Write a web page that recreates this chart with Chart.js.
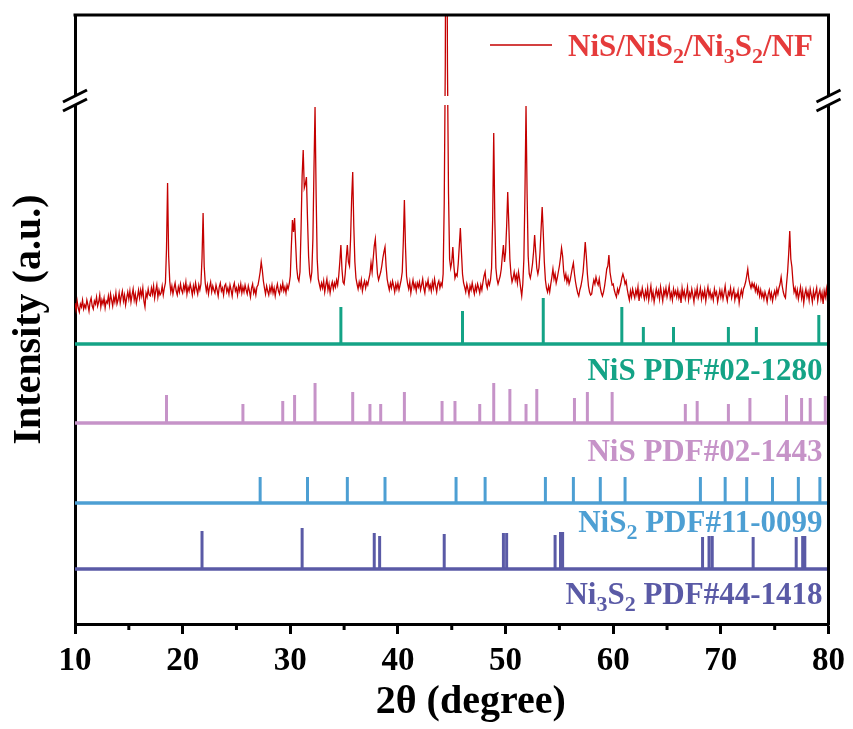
<!DOCTYPE html>
<html>
<head>
<meta charset="utf-8">
<script src="https://cdn.jsdelivr.net/npm/chart.js@4.4.1/dist/chart.umd.min.js"></script>
<style>
    html, body { margin: 0; padding: 0; background: #fff; }
    #wrap { width: 853px; height: 729px; }
</style>
</head>
<body>
<div id="wrap"><canvas id="xrdChart"></canvas></div>
<script>
// XRD scan of the sample, 2θ = 10..80 in 0.1 degree steps (a.u.)
const scanStart = 10;
const scanStep = 0.1;
const sampleCounts = [
    321, 314, 323, 316, 312, 320, 317, 324, 315, 319,
    316, 324, 319, 313, 322, 326, 318, 315, 323, 320,
    327, 318, 322, 329, 317, 324, 320, 326, 316, 323,
    321, 328, 319, 330, 324, 318, 327, 322, 331, 320,
    324, 331, 321, 328, 333, 323, 329, 319, 326, 332,
    325, 333, 322, 329, 335, 324, 330, 321, 327, 334,
    326, 334, 328, 336, 323, 317, 331, 327, 335, 329,
    328, 336, 330, 338, 326, 333, 339, 327, 334, 329,
    331, 338, 329, 336, 341, 375, 441, 368, 343, 332,
    338, 330, 336, 341, 333, 329, 337, 332, 340, 334,
    331, 339, 334, 342, 330, 337, 333, 340, 335, 329,
    338, 332, 341, 335, 330, 339, 334, 340, 366, 411,
    358, 341, 333, 339, 330, 337, 342, 332, 338, 334,
    331, 339, 334, 328, 337, 341, 333, 336, 329, 338,
    340, 332, 336, 330, 339, 334, 328, 337, 341, 333,
    336, 329, 338, 333, 340, 331, 337, 332, 339, 334,
    330, 338, 333, 327, 336, 340, 331, 335, 329, 337,
    339, 345, 352, 362, 354, 343, 336, 330, 338, 333,
    329, 337, 332, 339, 331, 336, 328, 335, 340, 333,
    330, 338, 334, 341, 333, 337, 331, 339, 335, 340,
    348, 378, 404, 392, 406, 380, 356, 346, 343, 352,
    395, 448, 474, 436, 440, 447, 405, 368, 350, 344,
    352, 385, 455, 517, 430, 365, 345, 340, 335, 341,
    336, 343, 332, 339, 345, 334, 340, 331, 338, 342,
    335, 341, 337, 344, 339, 348, 362, 379, 355, 342,
    340, 350, 366, 379, 362, 358, 385, 425, 452, 398,
    362, 346, 340, 335, 342, 337, 344, 333, 339, 343,
    336, 342, 339, 345, 350, 361, 352, 365, 378, 385,
    366, 350, 344, 348, 352, 358, 366, 372, 377, 358,
    345, 339, 334, 341, 336, 343, 338, 332, 340, 335,
    341, 334, 339, 344, 352, 382, 424, 378, 348, 340,
    335, 342, 331, 338, 344, 336, 340, 333, 341, 337,
    342, 334, 339, 345, 336, 331, 341, 338, 344, 335,
    339, 333, 342, 336, 345, 338, 332, 340, 343, 336,
    341, 338, 350, 420, 560, 900, 560, 430, 365, 356,
    362, 377, 358, 346, 350, 348, 360, 378, 396, 372,
    350, 341, 337, 332, 340, 335, 329, 338, 334, 341,
    335, 330, 338, 333, 340, 336, 331, 339, 334, 342,
    348, 352, 340, 336, 343, 339, 344, 356, 405, 491,
    405, 356, 345, 340, 344, 348, 355, 368, 379, 362,
    372, 398, 432, 400, 365, 350, 342, 346, 352, 344,
    349, 341, 352, 345, 336, 328, 340, 365, 430, 518,
    430, 368, 350, 346, 352, 360, 372, 389, 372, 356,
    350, 356, 372, 395, 417, 392, 362, 344, 336, 332,
    338, 332, 340, 347, 355, 345, 350, 341, 346, 352,
    358, 366, 376, 368, 352, 345, 350, 342, 347, 340,
    344, 350, 356, 361, 350, 342, 336, 331, 328, 334,
    338, 344, 352, 366, 382, 368, 350, 338, 332, 329,
    330, 338, 344, 340, 347, 342, 339, 345, 336, 331,
    328, 332, 338, 346, 355, 358, 369, 352, 345, 339,
    340, 334, 330, 327, 335, 331, 336, 340, 346, 350,
    346, 340, 343, 335, 329, 324, 333, 327, 335, 330,
    326, 334, 329, 337, 323, 332, 328, 336, 330, 325,
    333, 327, 336, 324, 331, 338, 326, 332, 322, 329,
    335, 328, 333, 325, 337, 330, 323, 334, 329, 336,
    327, 332, 338, 326, 331, 324, 335, 329, 333, 327,
    334, 326, 331, 321, 336, 328, 333, 325, 330, 337,
    324, 331, 327, 335, 329, 322, 333, 328, 336, 326,
    330, 336, 325, 332, 327, 334, 323, 331, 337, 328,
    333, 326, 330, 324, 335, 329, 332, 322, 328, 334,
    327, 333, 325, 331, 338, 328, 323, 332, 329, 336,
    326, 331, 335, 324, 330, 327, 333, 321, 329, 334,
    328, 335, 338, 342, 348, 355, 345, 340, 336, 341,
    337, 340, 333, 338, 331, 336, 328, 334, 327, 331,
    325, 332, 328, 322, 330, 334, 326, 331, 323, 329,
    333, 327, 335, 330, 336, 340, 347, 338, 332, 328,
    326, 340, 352, 370, 393, 365, 357, 342, 332, 336,
    328, 334, 325, 331, 337, 326, 333, 321, 330, 335,
    327, 332, 324, 335, 329, 322, 333, 326, 331, 336,
    323, 330, 334, 325, 331, 320, 333, 327, 335, 324,
    330
];
const sampleLabel = 'NiS/NiS_2/Ni_3S_2/NF';

// reference cards: peak positions (2θ) and relative intensities
const nisAPos = [34.7, 46.0, 53.5, 60.8, 62.8, 65.6, 70.7, 73.3, 79.1];
const nisAInt = [37, 33, 46, 37, 17, 17, 17, 17, 29];
const nisBPos = [18.5, 25.6, 29.3, 30.4, 32.3, 35.8, 37.4, 38.4, 40.6, 44.1, 45.3, 47.6, 48.9, 50.4,
                 51.9, 52.9, 56.4, 57.6, 59.9, 66.7, 67.8, 70.7, 72.7, 76.1, 77.5, 78.3, 79.7];
const nisBInt = [28, 19, 22, 28, 40, 31, 19, 19, 31, 22, 22, 19, 40, 34,
                 19, 34, 25, 31, 31, 19, 22, 19, 25, 28, 25, 25, 27];
const nis2Pos = [27.2, 31.6, 35.3, 38.8, 45.4, 48.1, 53.7, 56.3, 58.8, 61.1, 68.1, 70.4, 72.4, 74.8, 77.2, 79.2];
const nis2Int = [26, 26, 26, 26, 26, 26, 26, 26, 26, 26, 26, 26, 26, 26, 26, 26];
const ni3s2Pos = [21.8, 31.1, 37.8, 38.3, 44.3, 49.8, 50.1, 54.6, 55.1, 55.3, 68.3, 68.9, 69.2, 73.0, 77.0, 77.6, 77.8];
const ni3s2Int = [38, 41, 36, 33, 35, 36, 36, 34, 37, 37, 32, 33, 33, 32, 32, 33, 33];
const cardLabels = ['NiS PDF#02-1280', 'NiS PDF#02-1443', 'NiS_2 PDF#11-0099', 'Ni_3S_2 PDF#44-1418'];
const cardOffsets = [280, 201, 121, 55];

const xTicks = [10, 20, 30, 40, 50, 60, 70, 80];
const xMinorTicks = [15, 25, 35, 45, 55, 65, 75];
const axisBreak = [519, 528];

const FONT = '"Liberation Serif", "Times New Roman", serif';
const sampleColor = '#c40000';
const sampleTextColor = '#e53b3b';
const cardColors = ['#14a386', '#c693c8', '#4d9fd3', '#5a5aa6'];
const labelDy = [36, 38, 29, 35];

const cards = [
    [nisAPos, nisAInt],
    [nisBPos, nisBInt],
    [nis2Pos, nis2Int],
    [ni3s2Pos, ni3s2Int]
];

// draws text where "_3" means subscript 3
function drawRich(ctx, text, x, y, size, color, alignRight) {
    const parts = text.split(/(_\d)/).filter(s => s);
    const subSize = Math.round(size * 0.7);
    let total = 0;
    parts.forEach(p => {
        const sub = p[0] === '_';
        ctx.font = `bold ${sub ? subSize : size}px ${FONT}`;
        total += ctx.measureText(sub ? p.slice(1) : p).width;
    });
    let cx = alignRight ? x - total : x;
    ctx.fillStyle = color;
    ctx.textAlign = 'left';
    ctx.textBaseline = 'alphabetic';
    parts.forEach(p => {
        const sub = p[0] === '_';
        const s = sub ? p.slice(1) : p;
        ctx.font = `bold ${sub ? subSize : size}px ${FONT}`;
        ctx.fillText(s, cx, sub ? y + size * 0.24 : y);
        cx += ctx.measureText(s).width;
    });
}

const framePlugin = {
    id: 'frame',
    afterDatasetsDraw(chart) {
        const { ctx, chartArea: a, scales: { x, y } } = chart;
        ctx.save();
        ctx.strokeStyle = '#000';
        ctx.lineWidth = 3;
        ctx.beginPath();
        ctx.moveTo(a.left - 1.5, a.top);
        ctx.lineTo(a.right, a.top);
        ctx.lineTo(a.right, a.bottom + 1.5);
        ctx.stroke();

        // minor ticks
        xMinorTicks.forEach(v => {
            const px = x.getPixelForValue(v);
            ctx.beginPath();
            ctx.moveTo(px, a.bottom);
            ctx.lineTo(px, a.bottom + 6);
            ctx.stroke();
        });

        // axis break
        const yTop = y.getPixelForValue(axisBreak[1]);
        const yBot = y.getPixelForValue(axisBreak[0]);
        ctx.fillStyle = '#fff';
        ctx.fillRect(a.left - 4, yTop, a.right - a.left + 8, yBot - yTop);
        [a.left, a.right].forEach(ex => {
            [yTop, yBot].forEach(ey => {
                ctx.beginPath();
                ctx.moveTo(ex - 12, ey + 6);
                ctx.lineTo(ex + 12, ey - 6);
                ctx.stroke();
            });
        });

        // legend
        ctx.strokeStyle = sampleColor;
        ctx.lineWidth = 1.5;
        ctx.beginPath();
        ctx.moveTo(490, 45);
        ctx.lineTo(552, 45);
        ctx.stroke();
        drawRich(ctx, sampleLabel, 568, 56, 31, sampleTextColor, false);

        // card names
        cardLabels.forEach((t, i) => {
            drawRich(ctx, t, a.right - 6, y.getPixelForValue(cardOffsets[i]) + labelDy[i], 31, cardColors[i], true);
        });
        ctx.restore();
    }
};

const datasets = [];
cards.forEach(([pos, inten], i) => {
    const base = cardOffsets[i];
    datasets.push({
        data: [{ x: 10, y: base }, { x: 80, y: base }],
        borderColor: cardColors[i],
        borderWidth: 3.5,
        pointRadius: 0
    });
    const sticks = [];
    pos.forEach((p, k) => {
        sticks.push({ x: p, y: base }, { x: p, y: base + inten[k] }, { x: p, y: null });
    });
    datasets.push({
        data: sticks,
        borderColor: cardColors[i],
        borderWidth: 3,
        pointRadius: 0,
        spanGaps: false
    });
});
datasets.push({
    data: sampleCounts.map((c, i) => ({ x: scanStart + i * scanStep, y: c })),
    borderColor: sampleColor,
    borderWidth: 1.3,
    pointRadius: 0
});

new Chart(document.getElementById('xrdChart'), {
    type: 'line',
    data: { datasets },
    plugins: [framePlugin],
    options: {
        responsive: true,
        maintainAspectRatio: false,
        animation: false,
        layout: { padding: { top: 15, right: 22, left: 0, bottom: 0 } },
        plugins: { legend: { display: false }, tooltip: { enabled: false } },
        scales: {
            x: {
                type: 'linear',
                min: 10,
                max: 80,
                afterFit: s => { s.height = 105; },
                afterBuildTicks: s => { s.ticks = xTicks.map(v => ({ value: v })); },
                border: { display: true, width: 3, color: '#000' },
                grid: { display: true, drawOnChartArea: false, drawTicks: true, tickLength: 10, tickWidth: 3, tickColor: '#000' },
                ticks: {
                    autoSkip: false,
                    maxRotation: 0,
                    padding: 8,
                    color: '#000',
                    font: { family: FONT, size: 33, weight: 'bold' }
                },
                title: {
                    display: true,
                    text: '\u2002\u2009 2θ (degree)',
                    color: '#000',
                    font: { family: FONT, size: 40, weight: 'bold' },
                    padding: { top: 0, bottom: 2 }
                }
            },
            y: {
                type: 'linear',
                min: 0,
                max: 609,
                afterFit: s => { s.width = 75; },
                border: { display: true, width: 3, color: '#000' },
                grid: { display: false },
                ticks: { display: false },
                title: {
                    display: true,
                    text: 'Intensity (a.u.)',
                    color: '#000',
                    font: { family: FONT, size: 40, weight: 'bold' },
                    padding: { top: 6, bottom: 0 }
                }
            }
        }
    }
});
</script>
</body>
</html>
